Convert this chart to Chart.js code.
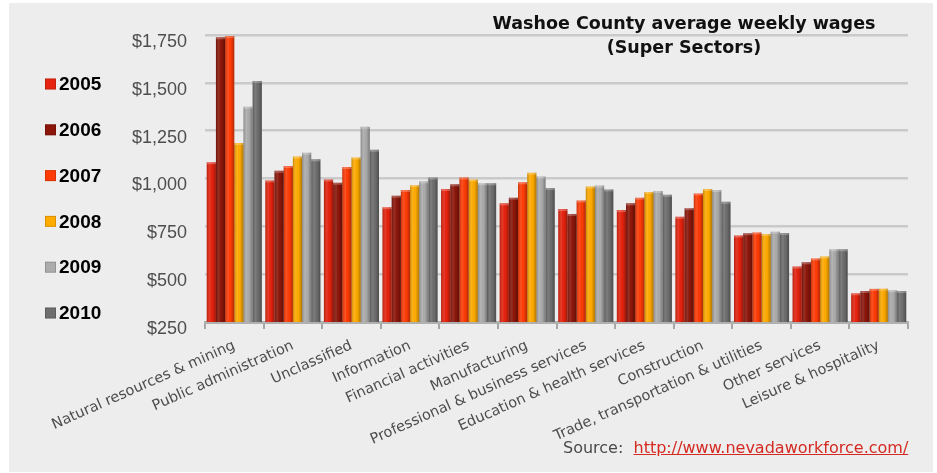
<!DOCTYPE html>
<html>
<head>
<meta charset="utf-8">
<title>Washoe County average weekly wages</title>
<script src="https://cdn.jsdelivr.net/npm/chart.js@4.4.1/dist/chart.umd.min.js"></script>
<style>
  html, body { margin: 0; padding: 0; background: #ffffff; }
  #wrap { position: relative; width: 937px; height: 473px; }
  #chart { position: absolute; left: 0; top: 0; }
  .title {
    position: absolute; left: 434px; width: 500px; text-align: center;
    font-family: "DejaVu Sans", sans-serif; font-weight: bold; font-size: 17.5px;
    color: #111; line-height: 24px; top: 11px;
  }
  .source {
    position: absolute; left: 563px; top: 438px;
    font-family: "DejaVu Sans", sans-serif; font-size: 16px; color: #4a4a4a;
    white-space: pre;
  }
  .source a { color: #d42a22; text-decoration: underline; }
</style>
</head>
<body>
<div id="wrap">
  <canvas id="chart" width="937" height="473"></canvas>
  <div class="title">Washoe County average weekly wages<br>(Super Sectors)</div>
  <div class="source">Source:  <a>http://www.nevadaworkforce.com/</a></div>
</div>
<script>
// Super sectors, ordered by 2010 rank
const categories = [
  'Natural resources & mining', 'Public administration', 'Unclassified',
  'Information', 'Financial activities', 'Manufacturing',
  'Professional & business services', 'Education & health services',
  'Construction', 'Trade, transportation & utilities', 'Other services',
  'Leisure & hospitality'
];

const years = ['2005', '2006', '2007', '2008', '2009', '2010'];

// Average weekly wage in dollars, one array per year (same order as categories)
const wages2005 = [1085,  990,  995, 850, 945, 870, 840, 835, 800, 702, 540, 400];
const wages2006 = [1738, 1040,  978, 910, 970, 900, 815, 870, 845, 714, 562, 412];
const wages2007 = [1745, 1065, 1060, 940, 1005, 980, 885, 900, 922, 718, 582, 423];
const wages2008 = [1185, 1115, 1110, 965, 995, 1030, 958, 930, 945, 710, 592, 424];
const wages2009 = [1375, 1135, 1270, 985, 975, 1010, 963, 935, 940, 722, 630, 416];
const wages2010 = [1510, 1100, 1150, 1005, 975, 950, 943, 915, 878, 715, 630, 412];

const yTickValues = [250, 500, 750, 1000, 1250, 1500, 1750];

const seriesValues = [wages2005, wages2006, wages2007, wages2008, wages2009, wages2010];
const seriesColors = ['#e5230e', '#8c160a', '#ff3c06', '#ffab00', '#acacac', '#6e6e6e'];

const datasets = years.map((y, i) => ({
  label: y,
  data: seriesValues[i],
  backgroundColor: seriesColors[i],
  borderWidth: 0,
  categoryPercentage: 0.94,
  barPercentage: 1.0
}));

// Grey panel behind the whole chart
const panelPlugin = {
  id: 'panel',
  beforeDraw(chart) {
    const ctx = chart.ctx;
    ctx.save();
    ctx.fillStyle = '#ffffff';
    ctx.fillRect(0, 0, chart.width, chart.height);
    ctx.fillStyle = '#ededed';
    ctx.fillRect(9, 3, 924, 469);
    ctx.restore();
  }
};

// Rounded shading across every bar for a cylinder-like look
const shadePlugin = {
  id: 'shade',
  afterDatasetsDraw(chart) {
    const ctx = chart.ctx;
    const bottom = chart.chartArea.bottom;
    ctx.save();
    chart.data.datasets.forEach((ds, di) => {
      const meta = chart.getDatasetMeta(di);
      meta.data.forEach(bar => {
        const p = bar.getProps(['x', 'y', 'base', 'width'], true);
        const left = p.x - p.width / 2;
        const base = Math.min(p.base, bottom);
        const g = ctx.createLinearGradient(left, 0, left + p.width, 0);
        g.addColorStop(0, 'rgba(0,0,0,0.22)');
        g.addColorStop(0.35, 'rgba(255,255,255,0.10)');
        g.addColorStop(0.6, 'rgba(0,0,0,0.0)');
        g.addColorStop(1, 'rgba(0,0,0,0.30)');
        ctx.fillStyle = g;
        ctx.fillRect(left, p.y, p.width, base - p.y);
        // lighter cap on the top edge
        ctx.fillStyle = 'rgba(255,255,255,0.25)';
        ctx.fillRect(left, p.y, p.width, 2);
      });
    });
    ctx.restore();
  }
};

// Year legend stacked down the left side
const sideLegendPlugin = {
  id: 'sideLegend',
  afterDraw(chart) {
    const ctx = chart.ctx;
    ctx.save();
    ctx.font = 'bold 19px "Liberation Sans", Arial, sans-serif';
    ctx.textBaseline = 'middle';
    ctx.textAlign = 'left';
    chart.data.datasets.forEach((ds, i) => {
      const cy = 84 + i * 45.8;
      ctx.fillStyle = ds.backgroundColor;
      ctx.fillRect(45, cy - 5.5, 11, 11);
      ctx.strokeStyle = 'rgba(0,0,0,0.15)';
      ctx.lineWidth = 1;
      ctx.strokeRect(45.5, cy - 5, 10, 10);
      ctx.fillStyle = '#000000';
      ctx.fillText(ds.label, 59, cy + 1);
    });
    ctx.restore();
  }
};

new Chart(document.getElementById('chart'), {
  type: 'bar',
  data: { labels: categories, datasets },
  plugins: [panelPlugin, shadePlugin, sideLegendPlugin],
  options: {
    responsive: false,
    animation: false,
    layout: { padding: { left: 100, right: 29, top: 35, bottom: 0 } },
    plugins: {
      legend: { display: false },
      title: { display: false },
      tooltip: { enabled: false }
    },
    scales: {
      x: {
        afterFit(scale) { scale.height = 151; },
        grid: {
          display: true,
          offset: true,
          drawOnChartArea: false,
          drawTicks: true,
          tickLength: 7,
          color: '#a6a6a6',
          lineWidth: 2
        },
        border: { display: true, color: '#b0b0b0', width: 3 },
        ticks: {
          autoSkip: false,
          minRotation: 24,
          maxRotation: 24,
          padding: 8,
          color: '#4d4d4d',
          font: { family: '"DejaVu Sans", sans-serif', size: 14.5 }
        }
      },
      y: {
        min: 250,
        max: 1750,
        afterFit(scale) { scale.width = 105; },
        afterBuildTicks(scale) { scale.ticks = yTickValues.map(v => ({ value: v })); },
        grid: {
          color: '#cacaca',
          lineWidth: 2.5,
          drawTicks: false
        },
        border: { display: false },
        ticks: {
          padding: 18,
          labelOffset: 7,
          color: '#4e4e4e',
          font: { family: '"Liberation Sans", Arial, sans-serif', size: 18 },
          callback: v => '$' + v.toLocaleString('en-US')
        }
      }
    }
  }
});
</script>
</body>
</html>
